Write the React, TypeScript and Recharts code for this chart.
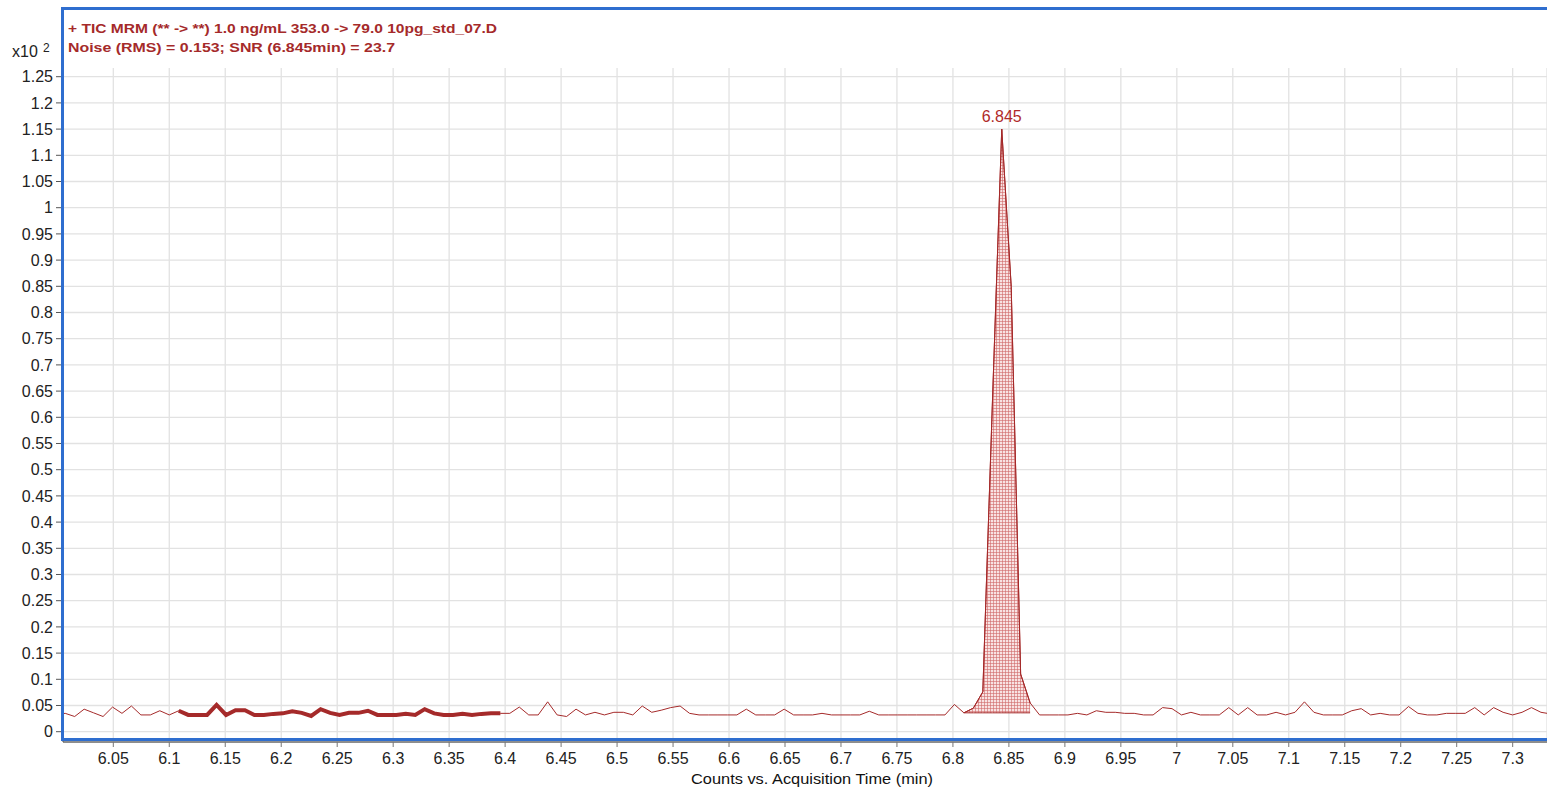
import React from 'react';
import {
  ComposedChart,
  Line,
  Area,
  XAxis,
  YAxis,
  CartesianGrid,
  ReferenceArea,
  LabelList,
} from 'recharts';

// Acquisition time (min)
const TIMES = [
  5.9986, 6.00705, 6.0155, 6.02395, 6.0324, 6.04085, 6.0493, 6.05775, 6.0662, 6.07465,
  6.0831, 6.09155, 6.1, 6.10845, 6.1169, 6.12535, 6.1338, 6.14225, 6.1507, 6.15915,
  6.1676, 6.17605, 6.1845, 6.19295, 6.2014, 6.20985, 6.2183, 6.22675, 6.2352, 6.24365,
  6.2521, 6.26055, 6.269, 6.27745, 6.2859, 6.29435, 6.3028, 6.31125, 6.3197, 6.32815,
  6.3366, 6.34505, 6.3535, 6.36195, 6.3704, 6.37885, 6.3873, 6.39575, 6.4042, 6.41265,
  6.4211, 6.42955, 6.438, 6.44645, 6.4549, 6.46335, 6.4718, 6.48025, 6.4887, 6.49715,
  6.5056, 6.51405, 6.5225, 6.53095, 6.5394, 6.54785, 6.5563, 6.56475, 6.5732, 6.58165,
  6.5901, 6.59855, 6.607, 6.61545, 6.6239, 6.63235, 6.6408, 6.64925, 6.6577, 6.66615,
  6.6746, 6.68305, 6.6915, 6.69995, 6.7084, 6.71685, 6.7253, 6.73375, 6.7422, 6.75065,
  6.7591, 6.76755, 6.776, 6.78445, 6.7929, 6.80135, 6.8098, 6.81825, 6.8267, 6.83515,
  6.8436, 6.85205, 6.8605, 6.86895, 6.8774, 6.88585, 6.8943, 6.90275, 6.9112, 6.91965,
  6.9281, 6.93655, 6.945, 6.95345, 6.9619, 6.97035, 6.9788, 6.98725, 6.9957, 7.00415,
  7.0126, 7.02105, 7.0295, 7.03795, 7.0464, 7.05485, 7.0633, 7.07175, 7.0802, 7.08865,
  7.0971, 7.10555, 7.114, 7.12245, 7.1309, 7.13935, 7.1478, 7.15625, 7.1647, 7.17315,
  7.1816, 7.19005, 7.1985, 7.20695, 7.2154, 7.22385, 7.2323, 7.24075, 7.2492, 7.25765,
  7.2661, 7.27455, 7.283, 7.29145, 7.2999, 7.30835, 7.3168, 7.32525, 7.3337,
];

// Counts (x10^2)
const COUNTS = [
  0.033,
  0.035, 0.029, 0.043, 0.036, 0.029, 0.047, 0.035, 0.049, 0.032, 0.032,
  0.040, 0.032, 0.040, 0.032, 0.032, 0.032, 0.051, 0.032, 0.041, 0.041,
  0.032, 0.032, 0.034, 0.035, 0.039, 0.036, 0.030, 0.043, 0.036, 0.032,
  0.036, 0.036, 0.040, 0.032, 0.032, 0.032, 0.034, 0.032, 0.043, 0.035,
  0.032, 0.032, 0.034, 0.032, 0.034, 0.035, 0.035, 0.035, 0.047, 0.032,
  0.032, 0.057, 0.032, 0.029, 0.043, 0.032, 0.037, 0.032, 0.037, 0.037,
  0.032, 0.049, 0.037, 0.041, 0.046, 0.049, 0.035, 0.032, 0.032, 0.032,
  0.032, 0.032, 0.043, 0.032, 0.032, 0.032, 0.043, 0.032, 0.032, 0.032,
  0.035, 0.032, 0.032, 0.032, 0.032, 0.039, 0.032, 0.032, 0.032, 0.032,
  0.032, 0.032, 0.032, 0.032, 0.052, 0.036, 0.045, 0.076, 0.62, 1.15,
  0.85, 0.11, 0.055, 0.032, 0.032, 0.032, 0.032, 0.035, 0.032, 0.040,
  0.037, 0.037, 0.035, 0.035, 0.032, 0.032, 0.046, 0.044, 0.032, 0.037,
  0.032, 0.032, 0.032, 0.046, 0.032, 0.046, 0.032, 0.032, 0.037, 0.032,
  0.037, 0.057, 0.037, 0.032, 0.032, 0.032, 0.040, 0.044, 0.032, 0.035,
  0.032, 0.032, 0.048, 0.035, 0.032, 0.032, 0.035, 0.035, 0.035, 0.046,
  0.032, 0.046, 0.037, 0.032, 0.037, 0.046, 0.037, 0.034,
];

const NOISE_FROM = 6.10845;
const NOISE_TO = 6.39575;
const PEAK_FROM = 6.8098;
const PEAK_TO = 6.86895;
const PEAK_BASE = 0.036;
const PEAK_RT_LABEL = '6.845';

const X_TICKS = [
  6.05, 6.1, 6.15, 6.2, 6.25, 6.3, 6.35, 6.4, 6.45, 6.5, 6.55, 6.6, 6.65, 6.7, 6.75,
  6.8, 6.85, 6.9, 6.95, 7, 7.05, 7.1, 7.15, 7.2, 7.25, 7.3,
];
const Y_TICKS = [
  0, 0.05, 0.1, 0.15, 0.2, 0.25, 0.3, 0.35, 0.4, 0.45, 0.5, 0.55, 0.6, 0.65, 0.7,
  0.75, 0.8, 0.85, 0.9, 0.95, 1, 1.05, 1.1, 1.15, 1.2, 1.25,
];

const X_MIN = 6.00507;
const X_MAX = 7.33066;
const Y_MIN = -0.01966;
const Y_MAX = 1.3792;
const HEADER_BAND_FROM = 1.2666;

const HEADER_LINE_1 = '+ TIC MRM (** -> **) 1.0 ng/mL 353.0 -> 79.0 10pg_std_07.D';
const HEADER_LINE_2 = 'Noise (RMS) = 0.153; SNR (6.845min) = 23.7';
const X_TITLE = 'Counts vs. Acquisition Time (min)';

const RED = '#a52a2a';
const FONT = "'Liberation Sans', Arial, sans-serif";

const maxCount = Math.max(...COUNTS);
const DATA = TIMES.map((t, i) => {
  const v = COUNTS[i];
  const inNoise = t >= NOISE_FROM - 1e-6 && t <= NOISE_TO + 1e-6;
  const inPeak = t >= PEAK_FROM - 1e-6 && t <= PEAK_TO + 1e-6;
  return {
    t,
    v,
    noise: inNoise ? v : null,
    peak: inPeak ? [PEAK_BASE, v] : null,
    rt: v === maxCount ? PEAK_RT_LABEL : null,
  };
});

const fmt = (v: number) => String(Number(v.toFixed(2)));

const HeaderLabels = () => (
  <g>
    <text x={12} y={56.7} fontSize={16} fontFamily={FONT} fill="#222">
      x10
    </text>
    <text x={43} y={51.7} fontSize={12} fontFamily={FONT} fill="#222">
      2
    </text>
    <text
      x={68}
      y={33}
      fontSize={12}
      fontWeight="bold"
      fontFamily={FONT}
      fill={RED}
      textLength={429}
      lengthAdjust="spacingAndGlyphs"
    >
      {HEADER_LINE_1}
    </text>
    <text
      x={68}
      y={52}
      fontSize={12}
      fontWeight="bold"
      fontFamily={FONT}
      fill={RED}
      textLength={327}
      lengthAdjust="spacingAndGlyphs"
    >
      {HEADER_LINE_2}
    </text>
  </g>
);

const XTitle = () => (
  <text
    x={812}
    y={784}
    textAnchor="middle"
    fontSize={14}
    fontFamily={FONT}
    fill="#111"
    textLength={242}
    lengthAdjust="spacingAndGlyphs"
  >
    {X_TITLE}
  </text>
);

export default function App() {
  return (
    <div
      style={{
        position: 'absolute',
        left: 0,
        top: 0,
        width: 1547,
        height: 789,
        overflow: 'hidden',
        background: '#fff',
      }}
    >
      <ComposedChart
        width={1547}
        height={789}
        data={DATA}
        margin={{ top: 9, right: 0, bottom: 0, left: 0 }}
      >
        <defs>
          <pattern id="peakHatch" width="3" height="3" patternUnits="userSpaceOnUse">
            <rect width="3" height="3" fill="#f8e2e2" />
            <path d="M0 0.5H3M0.5 0V3" stroke="#d06a6a" strokeWidth="0.6" />
          </pattern>
        </defs>
        <CartesianGrid stroke="#e2e2e2" strokeWidth={1.3} />
        <ReferenceArea
          x1={X_MIN}
          x2={X_MAX}
          y1={HEADER_BAND_FROM}
          y2={Y_MAX}
          fill="#ffffff"
          fillOpacity={1}
          stroke="none"
          ifOverflow="visible"
        />
        <XAxis
          type="number"
          dataKey="t"
          domain={[X_MIN, X_MAX]}
          allowDataOverflow
          ticks={X_TICKS}
          interval={0}
          height={47}
          tickSize={5}
          tickMargin={6}
          tickFormatter={fmt}
          tick={{ fill: '#222', fontSize: 16, fontFamily: FONT }}
          axisLine={{ stroke: '#333' }}
          tickLine={{ stroke: '#777' }}
          label={<XTitle />}
        />
        <YAxis
          type="number"
          domain={[Y_MIN, Y_MAX]}
          allowDataOverflow
          ticks={Y_TICKS}
          interval={0}
          width={63}
          tickSize={7}
          tickMargin={3}
          tickFormatter={fmt}
          tick={{ fill: '#222', fontSize: 16, fontFamily: FONT }}
          axisLine={{ stroke: '#555' }}
          tickLine={{ stroke: '#555' }}
          label={<HeaderLabels />}
        />
        <Area
          type="linear"
          dataKey="peak"
          fill="url(#peakHatch)"
          fillOpacity={1}
          stroke={RED}
          strokeWidth={1}
          dot={false}
          activeDot={false}
          isAnimationActive={false}
        />
        <Line
          type="linear"
          dataKey="v"
          stroke={RED}
          strokeWidth={1}
          dot={false}
          activeDot={false}
          isAnimationActive={false}
        >
          <LabelList
            dataKey="rt"
            position="top"
            offset={7}
            fill="#b02a2a"
            fontSize={16}
            fontFamily={FONT}
          />
        </Line>
        <Line
          type="linear"
          dataKey="noise"
          stroke={RED}
          strokeWidth={4}
          dot={false}
          activeDot={false}
          isAnimationActive={false}
        />
      </ComposedChart>
      <div
        style={{
          position: 'absolute',
          left: 61,
          top: 7,
          width: 1500,
          height: 734,
          border: '3px solid #2f6ecf',
          boxSizing: 'border-box',
          pointerEvents: 'none',
        }}
      />
    </div>
  );
}
